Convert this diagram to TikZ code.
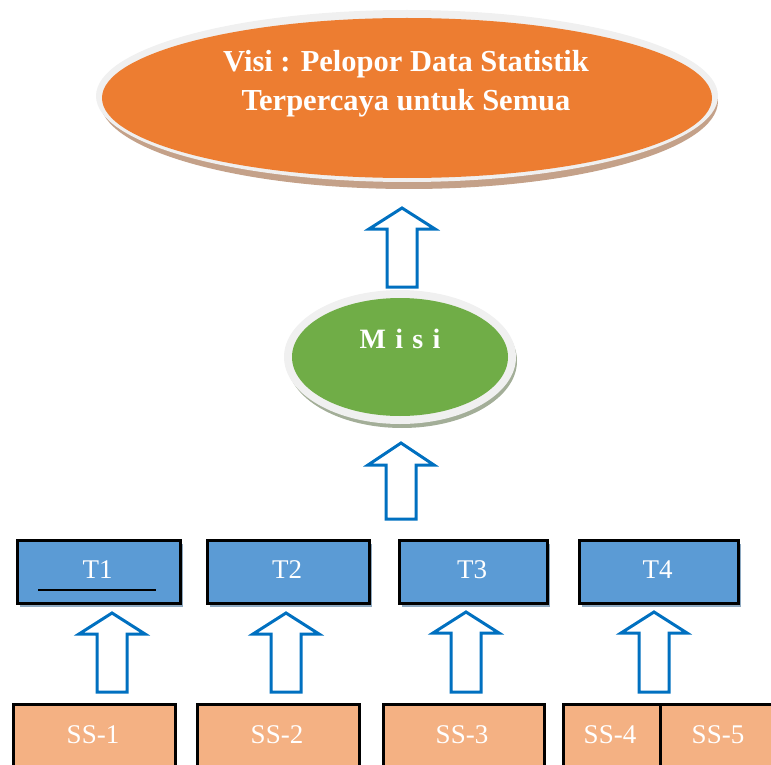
\documentclass[tikz,border=0pt]{standalone}
\usepackage{fontspec}
\setmainfont{Liberation Serif}
\definecolor{orangeF}{HTML}{ED7D31}
\definecolor{greenF}{HTML}{70AD47}
\definecolor{blueF}{HTML}{5B9BD5}
\definecolor{salmonF}{HTML}{F4B183}
\definecolor{arrowB}{HTML}{0070C0}
\definecolor{rimG}{HTML}{F0F0F0}
\definecolor{brownS}{HTML}{C4A189}
\definecolor{greenS}{HTML}{A3AE98}
\definecolor{blueS}{HTML}{8EA9C1}
\tikzset{
  tbox/.style={draw=black, line width=3.2pt, fill=blueF, text=white, font=\fontsize{27}{30}\selectfont},
  tshadow/.style={fill=blueS},
  ssbox/.style={draw=black, line width=3.2pt, fill=salmonF},
  sslabel/.style={text=white, font=\fontsize{27}{30}\selectfont},
  blockarrow/.style={draw=arrowB, line width=3pt, fill=white, line join=miter},
}
% #1 centre x, #2 tip y, #3 wing y, #4 bottom y
\newcommand{\blkarrow}[4]{%
  \draw[blockarrow] (#1,#2) -- (#1+33,#3) -- (#1+15,#3) -- (#1+15,#4) -- (#1-15,#4) -- (#1-15,#3) -- (#1-33,#3) -- cycle;}
\begin{document}
\begin{tikzpicture}[x=1pt,y=-1pt]
\useasboundingbox (0,0) rectangle (771,765);
\clip (0,0) rectangle (771,765);
% Visi ellipse
\fill[brownS] (409,101) ellipse [x radius=309, y radius=88];
\fill[rimG] (407,96) ellipse [x radius=311, y radius=86];
\fill[orangeF] (407,98) ellipse [x radius=305, y radius=80];
\node[text=white, align=center, font=\bfseries\fontsize{30.5}{39}\selectfont] (visi) at (406,84)
  {Visi : Pelopor Data Statistik\\Terpercaya untuk Semua};
% arrow to visi
\blkarrow{402}{208}{229}{287}
% Misi ellipse
\fill[greenS] (402,361) ellipse [x radius=115, y radius=67];
\fill[rimG] (400,357) ellipse [x radius=116, y radius=67];
\fill[greenF] (400,357) ellipse [x radius=108, y radius=59];
\node[text=white, font=\bfseries\fontsize{28}{30}\selectfont] (misi) at (400,339) {M\,\,i\,\,s\,\,i};
% arrow to misi
\blkarrow{401}{443}{465}{519}
% T boxes
\foreach \a/\b/\n in {16/179/1, 206/368/2, 398/546/3, 578/737/4}{
  \fill[tshadow] (\a+4,544) rectangle (\b+4,607);
  \node[tbox, minimum width=\b-\a, minimum height=63, anchor=north west, inner sep=0pt] (T\n) at (\a,539) {};
  \node[text=white, font=\fontsize{27}{30}\selectfont] (TL\n) at ({(\a+\b)/2},570) {T\n};
}
\draw[line width=1.2pt] (38,590) -- (156,590);
% arrows to T
\blkarrow{112}{613}{634}{692}
\blkarrow{286}{613}{634}{692}
\blkarrow{466}{612}{633}{692}
\blkarrow{654}{612}{633}{692}
% SS boxes
\node[ssbox, minimum width=162, minimum height=70, anchor=north west, inner sep=0pt] (SS1) at (12,703) {};
\node[ssbox, minimum width=162, minimum height=70, anchor=north west, inner sep=0pt] (SS2) at (196,703) {};
\node[ssbox, minimum width=161, minimum height=70, anchor=north west, inner sep=0pt] (SS3) at (382,703) {};
\node[ssbox, minimum width=97, minimum height=70, anchor=north west, inner sep=0pt] (SS4) at (562,703) {};
\node[ssbox, minimum width=130, minimum height=70, anchor=north west, inner sep=0pt] (SS5) at (659,703) {};
\foreach \n/\x in {1/93, 2/277, 3/462, 4/610, 5/718}{
  \node[sslabel] (L\n) at (\x,735) {SS-\n};
}
\end{tikzpicture}
\end{document}
